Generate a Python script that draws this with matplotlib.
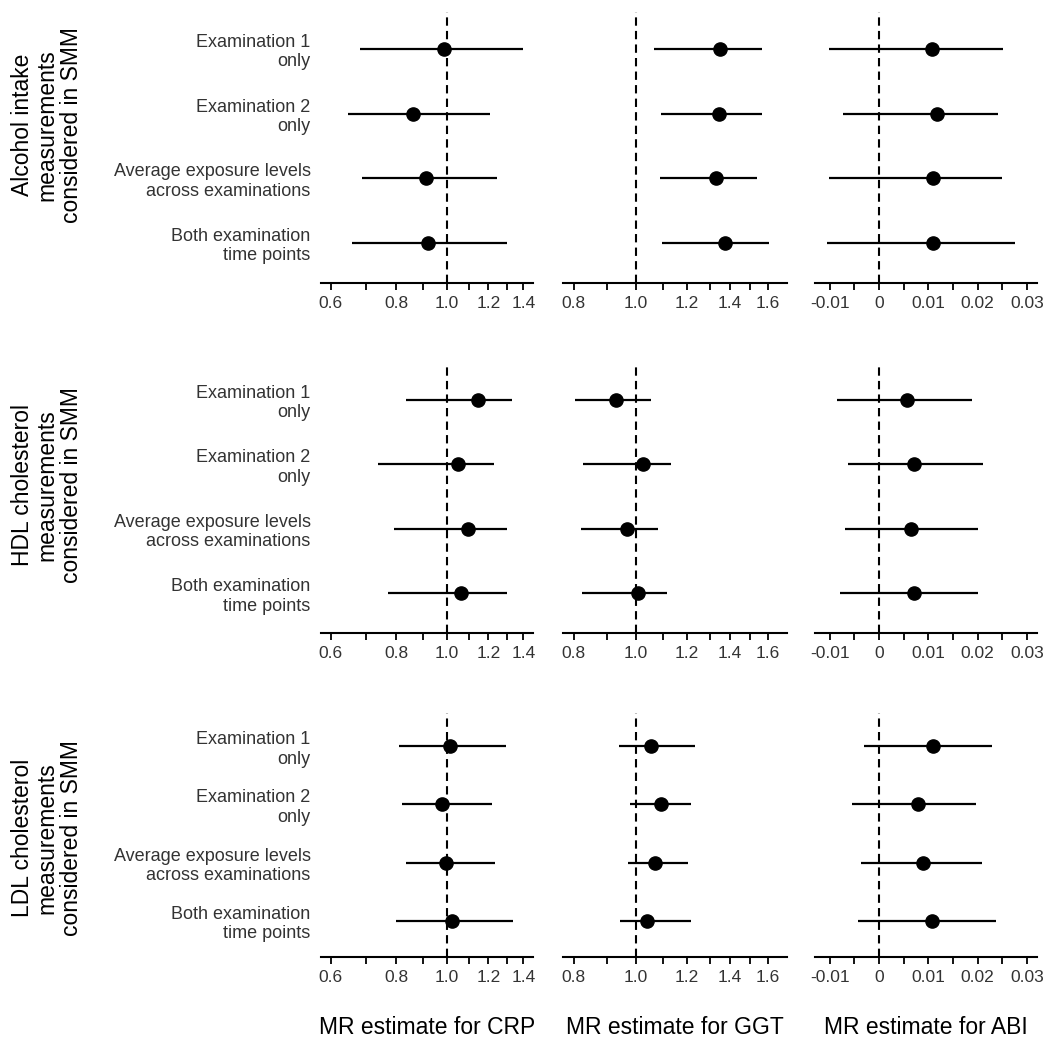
import matplotlib.pyplot as plt
from matplotlib.ticker import FixedLocator, FixedFormatter, NullFormatter

plt.rcParams['font.family'] = ['Liberation Sans', 'DejaVu Sans']

# rows of the figure = exposures, columns = outcomes
exposures = ["Alcohol intake\nmeasurements\nconsidered in SMM",
             "HDL cholesterol\nmeasurements\nconsidered in SMM",
             "LDL cholesterol\nmeasurements\nconsidered in SMM"]
categories = ["Examination 1\nonly", "Examination 2\nonly",
              "Average exposure levels\nacross examinations",
              "Both examination\ntime points"]
outcomes = ["MR estimate for CRP", "MR estimate for GGT", "MR estimate for ABI"]

# estimates and 95% CI, one inner list per exposure (alcohol, HDL, LDL)
crp_est = [[0.987, 0.861, 0.912, 0.920],
           [1.147, 1.051, 1.098, 1.063],
           [1.013, 0.980, 0.994, 1.024]]
crp_lo = [[0.683, 0.648, 0.689, 0.659],
          [0.834, 0.740, 0.794, 0.773],
          [0.811, 0.820, 0.834, 0.800]]
crp_hi = [[1.396, 1.207, 1.245, 1.301],
          [1.334, 1.231, 1.303, 1.305],
          [1.299, 1.220, 1.236, 1.337]]

ggt_est = [[1.350, 1.345, 1.331, 1.374],
           [0.930, 1.024, 0.969, 1.005],
           [1.055, 1.092, 1.071, 1.041]]
ggt_lo = [[1.066, 1.093, 1.089, 1.097],
          [0.804, 0.828, 0.821, 0.825],
          [0.941, 0.979, 0.973, 0.944]]
ggt_hi = [[1.568, 1.568, 1.541, 1.608],
          [1.055, 1.132, 1.081, 1.116],
          [1.233, 1.216, 1.205, 1.218]]

abi_est = [[0.0107, 0.0118, 0.0109, 0.0110],
           [0.0056, 0.0070, 0.0065, 0.0071],
           [0.0109, 0.0079, 0.0089, 0.0107]]
abi_lo = [[-0.0101, -0.0072, -0.0101, -0.0106],
          [-0.0085, -0.0062, -0.0069, -0.0078],
          [-0.0030, -0.0055, -0.0036, -0.0043]]
abi_hi = [[0.0251, 0.0241, 0.0250, 0.0275],
          [0.0188, 0.0210, 0.0200, 0.0200],
          [0.0229, 0.0196, 0.0209, 0.0237]]

panels = [(crp_est, crp_lo, crp_hi), (ggt_est, ggt_lo, ggt_hi), (abi_est, abi_lo, abi_hi)]

# axis setup per outcome column
x_scale = ['log', 'log', 'linear']
x_lim = [(0.575, 1.46), (0.770, 1.715), (-0.01296, 0.0320)]
x_ref = [1.0, 1.0, 0.0]
major_ticks = [[0.6, 0.8, 1.0, 1.2, 1.4],
               [0.8, 1.0, 1.2, 1.4, 1.6],
               [-0.01, 0, 0.01, 0.02, 0.03]]
major_labels = [["0.6", "0.8", "1.0", "1.2", "1.4"],
                ["0.8", "1.0", "1.2", "1.4", "1.6"],
                ["-0.01", "0", "0.01", "0.02", "0.03"]]
minor_ticks = [[0.7, 0.9, 1.1, 1.3],
               [0.9, 1.1, 1.3, 1.5],
               [-0.005, 0.005, 0.015, 0.025]]

W = H = 1050
fig = plt.figure(figsize=(10.5, 10.5), dpi=100)

col_px = [(321, 533), (563, 787), (815, 1037)]
row_px = [(12, 283), (363, 633), (713, 957)]
title_y = [125, 485, 838]

ypos = [4, 3, 2, 1]
dash = (0, (4, 2.5))

for r in range(3):
    top, bot = row_px[r]
    for c in range(3):
        left, right = col_px[c]
        ax = fig.add_axes([left / W, 1 - bot / H, (right - left) / W, (bot - top) / H])
        est, lo, hi = panels[c]
        ax.set_xscale(x_scale[c])
        ax.set_xlim(*x_lim[c])
        ax.set_ylim(0.38, 4.57)
        ax.axvline(x_ref[c], color='black', ls=dash, lw=1.5, zorder=1)
        ax.hlines(ypos, lo[r], hi[r], color='black', lw=1.6, zorder=2)
        ax.plot(est[r], ypos, 'o', ms=9.5, color='black', zorder=3)

        ax.xaxis.set_major_locator(FixedLocator(major_ticks[c]))
        ax.xaxis.set_major_formatter(FixedFormatter(major_labels[c]))
        ax.xaxis.set_minor_locator(FixedLocator(minor_ticks[c]))
        ax.xaxis.set_minor_formatter(NullFormatter())
        ax.tick_params(axis='x', which='both', direction='out', length=5, width=1.3,
                       labelsize=12.5, pad=4, labelcolor='#333333')

        for s in ['top', 'left', 'right']:
            ax.spines[s].set_visible(False)
        ax.spines['bottom'].set_linewidth(1.5)

        if c == 0:
            ax.set_yticks(ypos)
            ax.set_yticklabels(categories, fontsize=13, color='#333333')
            ax.tick_params(axis='y', length=0, pad=7.5)
        else:
            ax.set_yticks([])

    fig.text(47 / W, 1 - title_y[r] / H, exposures[r], rotation=90, ha='center',
             va='center', ma='center', fontsize=16.5, linespacing=1.1)

for c in range(3):
    left, right = col_px[c]
    fig.text((left + right) / 2 / W, 1 - 1028 / H, outcomes[c], ha='center',
             va='center', fontsize=16.5)

fig.savefig('out.png', dpi=100)
